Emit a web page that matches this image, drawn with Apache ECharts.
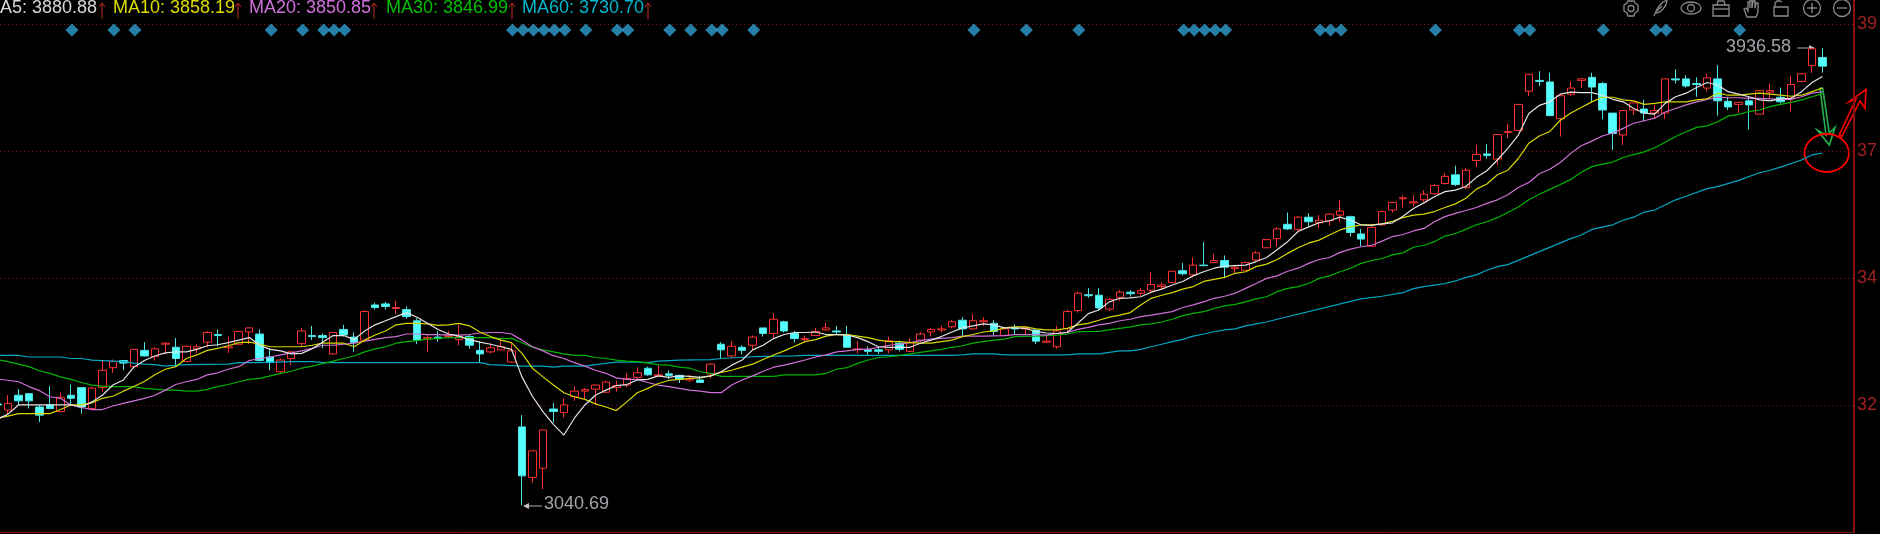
<!DOCTYPE html>
<html><head><meta charset="utf-8"><style>html,body{margin:0;padding:0;background:#000;overflow:hidden}#c{width:1880px;height:534px}</style>
<script src="https://cdn.jsdelivr.net/npm/echarts@6/dist/echarts.min.js"></script></head><body><div id="c"></div>
<script>
const opens=[3239,3227,3256,3259,3233,3237,3224,3256,3271,3230,3271,3310,3324,3312,3344,3332,3356,3350,3322,3347,3360,3375,3349,3356,3380,3376,3331,3302,3328,3357,3373,3373,3337,3385,3370,3364,3433,3435,3426,3424,3402,3367,3370,3371,3365,3371,3344,3341,3345,3321,3194,3095,3113,3229,3222,3253,3264,3268,3262,3271,3276,3291,3309,3294,3298,3295,3286,3286,3298,3356,3333,3350,3354,3388,3377,3400,3377,3365,3373,3384,3382,3374,3345,3345,3345,3345,3358,3342,3364,3380,3384,3390,3403,3386,3400,3397,3373,3388,3386,3384,3360,3351,3387,3422,3453,3452,3425,3448,3458,3456,3462,3469,3477,3500,3492,3511,3516,3520,3504,3501,3521,3545,3563,3591,3581,3605,3594,3598,3609,3606,3572,3548,3590,3619,3641,3633,3639,3651,3671,3688,3663,3716,3729,3719,3771,3775,3852,3873,3870,3798,3846,3873,3879,3867,3809,3766,3815,3817,3809,3809,3876,3876,3867,3858,3876,3832,3826,3833,3807,3850,3840,3838,3871,3902,3918];
const closes=[3237,3240,3245,3245,3217,3230,3252,3250,3233,3270,3305,3322,3319,3346,3333,3347,3358,3328,3352,3351,3379,3373,3351,3381,3388,3324,3320,3325,3341,3382,3371,3369,3379,3374,3359,3420,3428,3430,3428,3410,3364,3369,3367,3374,3371,3354,3337,3349,3351,3343,3098,3147,3188,3224,3237,3264,3267,3276,3282,3275,3289,3300,3296,3296,3295,3287,3288,3281,3317,3345,3352,3344,3370,3377,3405,3382,3367,3367,3381,3388,3380,3350,3347,3342,3342,3363,3346,3359,3376,3385,3386,3400,3386,3402,3402,3381,3386,3386,3388,3362,3362,3382,3420,3456,3451,3427,3444,3458,3455,3461,3473,3472,3499,3494,3511,3510,3520,3507,3507,3516,3535,3561,3582,3582,3605,3596,3599,3611,3617,3575,3562,3585,3616,3634,3643,3635,3650,3667,3685,3669,3697,3728,3726,3767,3773,3826,3885,3871,3804,3843,3858,3876,3860,3815,3769,3814,3829,3809,3814,3876,3874,3862,3865,3878,3833,3821,3830,3825,3853,3853,3831,3865,3886,3935,3901];
const lows=[3233,3217,3237,3230,3203,3229,3223,3239,3220,3229,3263,3300,3305,3311,3332,3324,3336,3313,3321,3338,3350,3352,3339,3354,3356,3322,3305,3298,3315,3352,3364,3348,3336,3371,3341,3361,3424,3424,3415,3406,3356,3341,3361,3367,3354,3347,3320,3338,3345,3320,3040.69,3085,3072,3203,3212,3245,3247,3237,3261,3263,3271,3287,3294,3291,3288,3280,3282,3280,3289,3329,3329,3336,3345,3371,3367,3379,3359,3361,3373,3382,3375,3350,3338,3335,3337,3338,3342,3341,3360,3371,3379,3387,3371,3385,3392,3373,3373,3376,3376,3356,3359,3347,3377,3418,3447,3422,3421,3441,3449,3451,3456,3462,3475,3491,3490,3509,3516,3486,3494,3500,3518,3545,3547,3580,3579,3588,3583,3588,3596,3567,3548,3547,3588,3614,3624,3627,3635,3649,3669,3666,3660,3703,3720,3707,3760,3774,3842,3862,3803,3763,3842,3858,3831,3797,3737,3746,3805,3793,3799,3797,3867,3859,3841,3851,3804,3815,3809,3777,3807,3838,3828,3812,3869,3888,3888];
const highs=[3243,3256,3268,3260,3237,3274,3262,3277,3271,3273,3324,3326,3324,3346,3360,3350,3360,3368,3353,3356,3382,3385,3371,3382,3388,3385,3348,3328,3343,3388,3392,3377,3379,3394,3379,3423,3437,3439,3441,3430,3407,3374,3382,3382,3394,3374,3361,3358,3364,3358,3217,3147,3188,3241,3250,3273,3270,3277,3284,3284,3299,3311,3312,3315,3305,3296,3296,3294,3318,3360,3362,3354,3373,3388,3417,3402,3382,3373,3388,3398,3392,3392,3362,3352,3350,3371,3363,3367,3380,3388,3392,3403,3409,3415,3409,3403,3388,3395,3390,3385,3373,3392,3424,3459,3466,3466,3446,3462,3462,3466,3498,3477,3500,3515,3526,3556,3533,3530,3511,3518,3539,3562,3585,3614,3607,3613,3609,3612,3639,3608,3582,3587,3618,3635,3648,3648,3658,3670,3691,3706,3702,3747,3748,3767,3788,3826,3886,3891,3888,3844,3870,3878,3888,3870,3809,3815,3831,3835,3825,3876,3895,3883,3879,3886,3903,3841,3831,3841,3854,3867,3859,3882,3887,3936.58,3936];
const ma5=[3209,3219,3237,3237,3237,3237,3237,3237,3233,3243,3256,3276,3286,3311,3324,3333,3339,3341,3341,3346,3353,3355,3359,3364,3369,3354,3346,3343,3337,3338,3347,3360,3373,3373,3365,3382,3394,3402,3410,3418,3409,3397,3385,3376,3372,3365,3360,3356,3351,3346,3292,3254,3224,3199,3178,3211,3237,3256,3266,3275,3277,3286,3287,3294,3291,3294,3293,3291,3294,3302,3315,3325,3345,3354,3367,3375,3379,3379,3380,3375,3375,3374,3369,3361,3351,3350,3350,3350,3358,3364,3371,3380,3388,3392,3396,3394,3388,3388,3387,3381,3378,3377,3379,3397,3416,3423,3439,3446,3447,3449,3458,3464,3472,3479,3490,3498,3505,3509,3510,3511,3518,3526,3541,3557,3577,3586,3594,3598,3605,3599,3590,3589,3592,3594,3607,3622,3633,3645,3655,3658,3665,3683,3696,3717,3740,3766,3808,3824,3831,3846,3850,3849,3849,3844,3836,3831,3818,3809,3807,3828,3841,3848,3859,3869,3864,3851,3846,3841,3835,3833,3837,3838,3851,3869,3880.88];
const ma10=[3211,3215,3220,3220,3220,3220,3228,3237,3237,3241,3250,3254,3264,3273,3283,3296,3307,3312,3328,3335,3344,3348,3353,3359,3360,3356,3351,3351,3351,3351,3354,3358,3358,3358,3351,3364,3374,3382,3394,3397,3397,3396,3393,3394,3397,3392,3380,3371,3364,3359,3338,3309,3292,3276,3261,3253,3248,3239,3233,3226,3243,3261,3269.5,3279,3285,3287,3289,3290,3294,3301,3305,3311,3317,3326,3335,3343,3352,3361,3365,3372,3375,3375,3372,3369,3364,3361,3361,3359,3358,3358,3361,3364,3371,3375,3380,3382,3388,3390,3390,3386,3384,3384,3387,3394,3397,3403,3409,3413,3418,3433,3446,3452,3457,3464,3469,3479,3483,3487,3495,3498,3508,3513,3522,3534,3545,3554,3560,3570,3580,3586,3590,3590,3592,3597,3604,3609,3611,3616,3624,3631,3642,3660,3670,3688,3697,3720,3750,3764,3773,3795,3809,3820,3831,3840,3840,3835,3833,3826,3828,3831,3831,3831,3835,3837,3848,3844,3844,3846,3848,3846,3844,3842,3844,3851,3858.19];
const ma20=[[0,3288],[2,3282.5],[3,3273],[4,3265],[5,3253],[6,3250],[7,3237],[8,3232],[9,3228],[10,3228],[11,3235],[12,3240],[13,3245],[14,3250],[15,3256],[16,3266],[17,3277],[18,3282.5],[19,3287],[20,3296],[21,3300],[22,3307],[23,3312],[24,3324],[25,3328],[26,3331],[27,3335],[28,3339],[29,3343],[30,3348],[31,3354],[32,3354],[33,3356],[34,3358],[35,3362],[36,3365.5],[37,3369],[38,3371],[39,3376],[40,3376],[41,3375],[42,3375],[43,3374],[44,3374],[45,3375],[46,3378],[47,3379],[48,3379],[49,3376],[50,3364],[51,3351],[52,3343],[53,3333.5],[54,3328],[55,3320],[56,3313],[57,3305],[58,3299],[59,3290],[60,3287],[61,3287],[62,3281],[63,3276],[64,3273],[65,3269.5],[66,3266],[67,3264],[68,3261],[69,3261],[70,3276],[71,3286],[72,3294],[73,3303],[74,3311],[75,3315],[76,3320],[77,3325],[78,3331],[79,3335],[80,3341],[81,3343],[82,3346],[83,3346],[84,3350],[85,3354],[86,3356],[87,3359],[88,3363],[89,3366],[90,3367.5],[91,3369],[92,3372],[94,3372],[96,3373],[97,3375],[99,3375],[100,3374],[101,3377],[102,3379],[103,3385],[104,3389],[105,3394],[106,3397],[107,3402],[108,3405],[109,3410],[110,3413],[111,3416.5],[112,3420],[113,3428],[114,3433],[115,3439],[116,3446],[117,3450],[118,3456],[119,3465.5],[120,3475],[121,3485],[122,3490],[123,3499],[124,3505],[125,3514.5],[126,3522],[127,3526],[128,3536],[129,3542.5],[130,3547],[131,3550],[132,3558],[133,3567],[134,3571],[135,3578],[136,3583],[137,3596],[138,3606],[139,3612.5],[140,3618],[141,3624],[142,3632],[143,3639],[144,3649],[145,3663],[146,3673],[147,3690],[148,3699],[149,3712],[150,3730],[151,3745],[152,3754],[153,3764],[154,3770],[155,3779],[156,3789],[157,3794],[158,3799],[159,3811],[160,3818],[161,3825],[162,3831],[163,3836],[164,3840],[165,3839],[166,3839],[167,3838],[168,3838],[169,3837],[170,3836],[171,3836],[172,3841],[173,3848],[174,3850.85]];
const ma30=[[0,3326],[1,3322],[2,3317],[3,3312],[4,3304],[5,3299],[6,3292],[7,3287],[8,3281],[9,3276],[10,3274],[11,3273],[13,3273],[14,3269.5],[15,3268],[16,3266],[17,3266],[18,3264],[19,3264],[20,3267.5],[21,3273],[22,3277],[23,3282.5],[24,3287],[25,3289],[26,3294],[27,3299],[28,3303],[29,3309],[30,3313],[32,3323],[33,3328],[34,3333],[35,3341],[36,3347],[37,3351],[38,3358],[39,3361],[40,3363],[41,3366],[42,3367.5],[43,3369],[47,3369],[48,3367],[49,3367.5],[50,3359],[51,3350],[52,3345],[53,3341],[54,3337],[55,3334],[56,3334],[57,3330],[58,3328],[59,3325],[60,3323],[61,3322],[63,3316],[64,3315],[65,3311],[66,3309],[67,3302],[68,3299],[69,3293],[74,3293],[75,3296],[78,3296],[79,3299],[80,3307],[81,3310],[82,3318.5],[83,3325],[84,3330],[85,3331.5],[86,3333.5],[87,3337],[88,3340],[89,3343],[90,3346],[91,3350],[92,3353],[93,3358],[94,3361],[95,3364],[96,3366],[97,3371],[99,3372],[101,3374],[102,3376],[103,3380.5],[105,3381],[106,3384],[107,3387],[108,3390],[109,3394],[110,3396],[111,3399.5],[112,3405],[113,3412],[114,3416.5],[115,3420],[116,3426],[117,3431],[118,3434],[119,3439],[120,3445],[121,3449],[122,3459],[123,3465.5],[124,3469],[125,3475],[126,3485],[127,3490],[128,3498],[129,3505],[130,3514.5],[131,3520],[132,3524],[133,3531],[134,3535],[135,3546],[136,3550],[137,3557],[138,3568],[139,3573],[140,3581],[141,3590],[142,3596],[143,3604],[144,3614],[145,3625],[146,3639],[147,3650],[148,3659.5],[149,3669],[150,3679],[151,3693],[152,3704],[153,3709],[154,3713],[155,3722],[156,3727.5],[157,3733],[158,3741],[159,3752],[160,3763],[161,3772.5],[162,3781],[163,3784],[164,3792],[165,3803],[166,3806.5],[167,3812],[168,3815],[169,3821.5],[170,3826],[171,3830],[172,3835],[173,3841],[174,3846.99]];
const ma60=[[0,3334],[2,3334],[3,3331],[6,3331],[7,3328],[8,3328],[9,3325],[10,3324],[11,3323],[12,3322],[13,3319],[14,3317],[15,3316],[16,3313],[17,3315],[18,3316],[22,3317],[23,3320],[25,3320],[28,3322],[30,3322],[31,3320],[46,3320],[47,3316],[50,3313],[52,3313],[53,3311],[54,3313],[56,3313],[57,3316],[59,3321],[61,3321],[62,3320],[63,3323],[65,3325],[68,3326],[69,3328],[72,3331.5],[76,3333],[77,3334],[91,3334],[92,3335],[93,3337],[95,3337],[96,3335],[102,3335],[103,3337],[105,3337],[106,3340],[107,3343],[108,3343],[109,3346],[110,3351],[111,3356],[112,3361],[113,3365.5],[114,3372],[115,3376],[116,3380.5],[117,3384],[118,3386],[119,3392],[120,3396],[121,3399.5],[122,3405],[130,3445],[132,3450],[134,3457],[135,3465],[136,3469],[137,3472],[138,3475],[139,3480],[140,3487],[141,3492],[142,3501],[143,3508],[144,3512],[150,3563],[151,3570],[152,3581],[154,3590],[155,3599],[156,3605],[157,3615],[158,3619],[160,3639],[161,3646],[163,3661],[164,3665],[166,3677],[168,3692],[169,3697],[170,3703],[172,3717],[173,3727],[174,3730.70]];
const signalIdx=[7,11,13,26,29,31,32,33,49,50,51,52,53,54,56,59,60,64,66,68,69,72,93,98,103,113,114,115,116,117,126,127,128,137,145,146,153,158,159,166];
const signalLevel=3972;
const tickValues=[3237,3486,3735,3984];
const tickLabels=['32','34','37','39'];
const legendItems=[
 {text:'A5: 3880.88',x:0,arrow:102,color:'#d8d8d8'},
 {text:'MA10: 3858.19',x:113,arrow:238,color:'#dcdc00'},
 {text:'MA20: 3850.85',x:249,arrow:374,color:'#d070dc'},
 {text:'MA30: 3846.99',x:386,arrow:512,color:'#00c000'},
 {text:'MA60: 3730.70',x:522,arrow:648,color:'#00b8d0'}];
const highLabel='3936.58', lowLabel='3040.69';

const ohlc=opens.map((o,i)=>[i,o,closes[i],lows[i],highs[i]]);
const lineS=(name,data,color,z)=>({name,type:'line',data,showSymbol:false,symbol:'none',z,silent:true,clip:true,
  lineStyle:{color,width:1.2},animation:false});
const indexed=a=>a.map((v,i)=>[i,v]);
const G=[];
const RED='#ff0000', DARK='#a02020', ICON='#8a8a8a';
legendItems.forEach(l=>{
  G.push({type:'text',x:l.x,y:8,style:{text:l.text,fill:l.color,font:'18px "Liberation Sans"',textVerticalAlign:'middle'}});
  G.push({type:'polyline',shape:{points:[[l.arrow,19],[l.arrow,3]]},style:{stroke:'#c03020',lineWidth:1,fill:null}});
  G.push({type:'polyline',shape:{points:[[l.arrow-3,7],[l.arrow,3],[l.arrow+3,7]]},style:{stroke:'#c03020',lineWidth:1,fill:null}});
});
// price annotations
G.push({type:'text',x:1726,y:47,style:{text:highLabel,fill:'#a0a4a8',font:'18px "Liberation Sans"',textVerticalAlign:'middle'}});
G.push({type:'polyline',shape:{points:[[1797,48],[1814,48]]},style:{stroke:'#b0b0b0',lineWidth:1,fill:null}});
G.push({type:'polygon',shape:{points:[[1815,48],[1809,45],[1809,51]]},style:{fill:'#c0c0c0'}});
G.push({type:'text',x:544,y:504,style:{text:lowLabel,fill:'#a0a4a8',font:'18px "Liberation Sans"',textVerticalAlign:'middle'}});
G.push({type:'polyline',shape:{points:[[525,506],[542,506]]},style:{stroke:'#b0b0b0',lineWidth:1,fill:null}});
G.push({type:'polygon',shape:{points:[[523,506],[529,503],[529,509]]},style:{fill:'#c0c0c0'}});
// hand drawn overlay
G.push({type:'polygon',shape:{points:[[1820,88.3],[1826,135],[1817.3,130],[1829.3,145],[1835,127.3],[1829.3,133.3],[1822.7,88.3]]},style:{stroke:'#22b14c',lineWidth:1.6,fill:null}});
G.push({type:'ellipse',shape:{cx:1826.7,cy:153,rx:22.2,ry:19},style:{stroke:RED,lineWidth:1.8,fill:null}});
G.push({type:'polygon',shape:{points:[[1839.3,135],[1856,99],[1849.3,101.7],[1866,89.3],[1865,108.3],[1860,101],[1841.7,136.7]]},style:{stroke:RED,lineWidth:1.6,fill:null}});
// toolbar icons
const st={stroke:ICON,lineWidth:1.3,fill:null};
const icon=(x,pts,closed)=>G.push({type:closed?'polygon':'polyline',x:x-8,y:0,shape:{points:pts},style:st});
G.push({type:'circle',shape:{cx:1631,cy:8.5,r:3},style:st});
icon(1631,[[5,1],[11,1],[12,3],[15,5],[15,11],[12,13],[11,16],[5,16],[4,13],[1,11],[1,5],[4,3]],true);
icon(1660,[[2,16],[5,9],[8,5],[11,2],[15,0],[14,5],[11,9],[8,12],[4,13]]);
icon(1660,[[5,11],[10,6]]);
G.push({type:'ellipse',shape:{cx:1691,cy:8,rx:10,ry:6},style:st});
G.push({type:'circle',shape:{cx:1691,cy:8,r:3.5},style:st});
G.push({type:'rect',shape:{x:1713,y:5,width:16,height:11},style:st});
icon(1721,[[4,5],[5,1],[11,1],[12,5]]);
icon(1721,[[0,9],[16,9]]);
icon(1751,[[4,17],[1,9],[3,8],[5,11],[5,2],[7,2],[7,8],[7,0],[9,0],[9,8],[10,1],[12,1],[12,8],[13,3],[15,3],[15,12],[13,17]],true);
G.push({type:'rect',shape:{x:1774,y:7,width:14,height:9},style:st});
icon(1781,[[2,7],[2,3],[4,1],[7,1],[9,2]]);
G.push({type:'circle',shape:{cx:1812,cy:8,r:8.5},style:st});
icon(1812,[[3,8],[13,8]]);icon(1812,[[8,3],[8,13]]);
G.push({type:'circle',shape:{cx:1842,cy:8,r:8.5},style:st});
icon(1842,[[3,8],[13,8]]);

const chart=echarts.init(document.getElementById('c'),null,{renderer:'canvas'});
chart.setOption({
  animation:false,backgroundColor:'#000',
  grid:{left:0,right:23,top:0,bottom:2},
  xAxis:{type:'value',min:0.238,max:177,show:true,splitLine:{show:false},axisTick:{show:false},axisLabel:{show:false},
    axisLine:{show:true,onZero:false,lineStyle:{color:'#8a1010',width:1}}},
  yAxis:{type:'value',position:'right',min:2988,max:4030.6,scale:true,
    axisLine:{show:true,onZero:false,lineStyle:{color:'#8a1010',width:2}},
    axisTick:{show:false,customValues:tickValues},
    splitLine:{show:true,lineStyle:{color:'#781414',type:[1,3],width:1}},
    axisLabel:{show:true,customValues:tickValues,margin:3,color:DARK,fontFamily:'Liberation Sans',fontSize:18,
      formatter:v=>tickLabels[tickValues.indexOf(v)]||''}},
  series:[
    {type:'candlestick',data:ohlc,barWidth:8,z:2,clip:true,itemStyle:{color:'#000',color0:'#54ffff',borderColor:'#ff3030',borderColor0:'#4ee4e4',borderWidth:1}},
    lineS('MA60',ma60,'#00a8c4',3),lineS('MA30',ma30,'#00b400',3),
    lineS('MA20',ma20,'#d070d8',4),lineS('MA10',indexed(ma10),'#d8d800',5),lineS('MA5',indexed(ma5),'#e4e4e4',6),
    {type:'scatter',data:signalIdx.map(i=>[i,signalLevel]),symbol:'diamond',symbolSize:13,symbolOffset:[1,0],itemStyle:{color:'#2e9fd0'},z:3}
  ],
  graphic:{elements:G}
});
</script></body></html>
